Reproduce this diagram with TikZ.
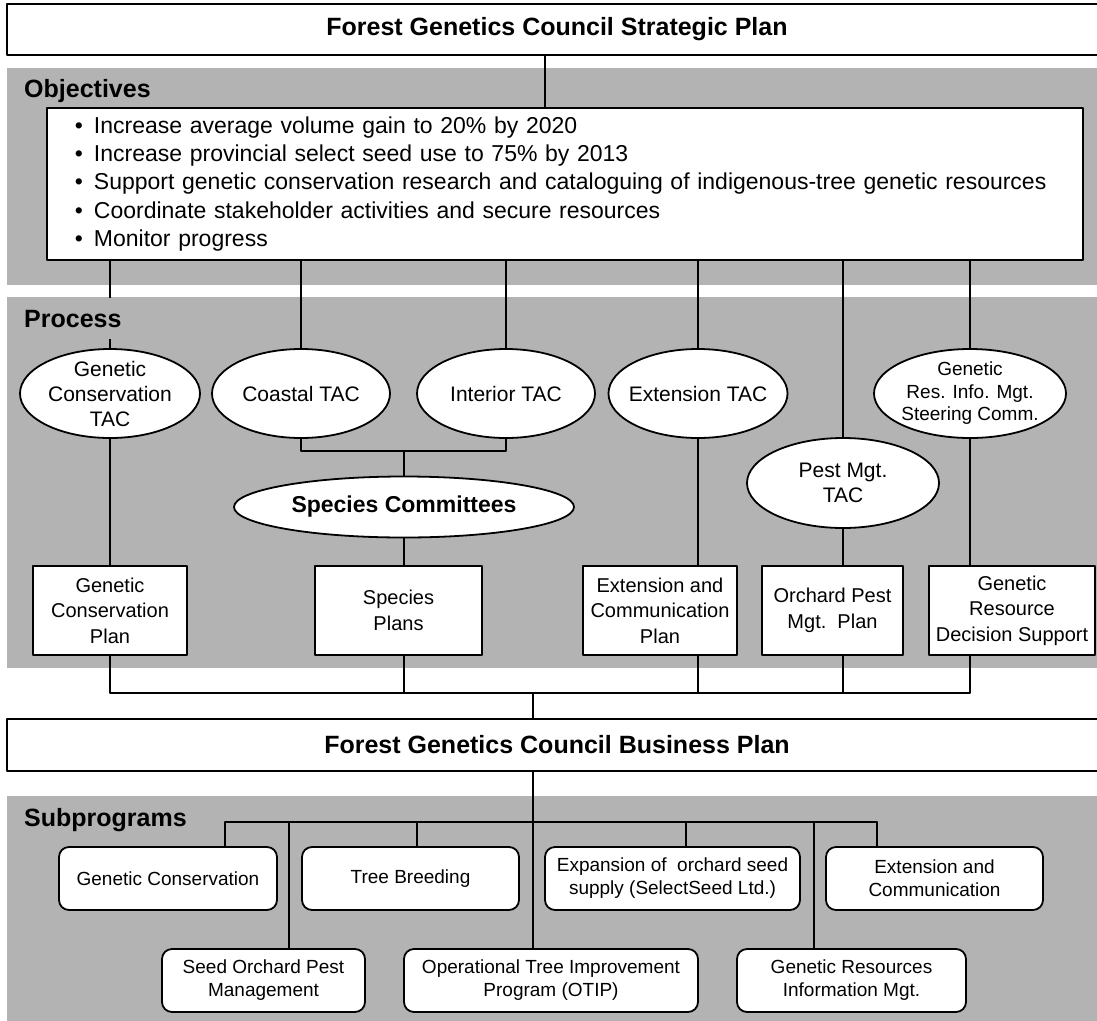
\documentclass[tikz,border=0pt]{standalone}
\usepackage{fontspec}
\setmainfont{Liberation Sans}
\usetikzlibrary{shapes.geometric}
\definecolor{panelgray}{RGB}{179,179,179}

\begin{document}
\begin{tikzpicture}[line cap=round,line join=round,x=1pt,y=-1pt,
  plan/.style={draw,line width=1.8pt,fill=white,inner sep=0pt,align=center},
  headtext/.style={font=\fontsize{25}{30}\selectfont\bfseries},
  tac/.style={ellipse,draw,line width=1.8pt,fill=white,inner sep=0pt,minimum height=89pt},
  tactext/.style={font=\fontsize{21}{25}\selectfont,align=center},
  planbox/.style={plan,minimum height=89pt,font=\fontsize{20}{25.5}\selectfont},
  subbox/.style={plan,rounded corners=10pt,minimum height=63pt,font=\fontsize{19}{23}\selectfont},
  conn/.style={line width=1.5pt}]
\useasboundingbox (0,0) rectangle (1097,1020);
\fill [panelgray] (7,68) rectangle (1100,285);
\fill [panelgray] (7,297) rectangle (1100,668);
\fill [panelgray] (7,796) rectangle (1100,1022);

\node[plan,headtext,minimum width=1100pt,minimum height=51pt] (strat) at (557,29.5) {Forest Genetics Council Strategic Plan};
\node[headtext,anchor=base west,inner sep=0pt] (objlab) at (24,97) {Objectives};
\node[plan,anchor=north west,minimum width=1036pt,minimum height=152pt,text width=980pt,align=left,inner xsep=28pt,font=\fontsize{23}{28.3}\selectfont] (obj) at (46,107)
  {\textbullet\hspace{11pt}Increase average volume gain to 20\% by 2020\\
   \textbullet\hspace{11pt}Increase provincial select seed use to 75\% by 2013\\
   \textbullet\hspace{11pt}Support genetic conservation research and cataloguing of indigenous-tree genetic resources\\
   \textbullet\hspace{11pt}Coordinate stakeholder activities and secure resources\\
   \textbullet\hspace{11pt}Monitor progress};

\node[tac,minimum width=180pt,label={[tactext]center:Genetic\\Conservation\\TAC}] (gctac) at (110,393.5) {};
\node[tac,minimum width=178pt,label={[tactext]center:Coastal TAC}] (coastal) at (301,393.5) {};
\node[tac,minimum width=178pt,label={[tactext]center:Interior TAC}] (interior) at (506,393.5) {};
\node[tac,minimum width=179pt,label={[tactext]center:Extension TAC}] (exttac) at (698,393.5) {};
\node[tac,minimum width=192pt,label={[tactext,font=\fontsize{19}{22.5}\selectfont]center:Genetic\\Res. Info. Mgt.\\Steering Comm.}] (grimsc) at (970,393.5) {};
\node[tac,minimum width=340pt,minimum height=61pt,label={[tactext,font=\fontsize{23}{27}\selectfont\bfseries]center:Species Committees}] (speccom) at (404,507) {};
\node[tac,minimum width=192pt,minimum height=90pt,label={[tactext]center:Pest Mgt.\\TAC}] (pesttac) at (843,483) {};

\node[planbox,minimum width=154pt] (gcplan) at (110,610.5) {Genetic\\Conservation\\Plan};
\node[planbox,minimum width=167pt] (spplan) at (398.5,610.5) {Species\\Plans};
\node[planbox,minimum width=154pt] (ecplan) at (660,610.5) {Extension and\\Communication\\Plan};
\node[planbox,minimum width=141pt] (opplan) at (832.5,610.5) {Orchard Pest\\Mgt.\ \ Plan};
\node[planbox,minimum width=166pt] (grdsplan) at (1012,610.5) {Genetic\\Resource\\Decision Support};

\node[plan,headtext,minimum width=1100pt,minimum height=52pt] (bizplan) at (557,745) {Forest Genetics Council Business Plan};
\node[headtext,anchor=base west,inner sep=0pt] (sublab) at (24,826) {Subprograms};

\node[subbox,minimum width=218pt] (gcsub) at (168,878.5) {Genetic Conservation};
\node[subbox,minimum width=217pt] (tbsub) at (410.5,878.5) {Tree Breeding};
\node[subbox,minimum width=255pt] (exsub) at (672.5,878.5) {Expansion of\ \ orchard seed\\supply (SelectSeed Ltd.)};
\node[subbox,minimum width=217pt] (ecsub) at (934.5,878.5) {Extension and\\Communication};
\node[subbox,minimum width=203pt] (sopsub) at (263.5,980.5) {Seed Orchard Pest\\Management};
\node[subbox,minimum width=294pt] (otipsub) at (551,980.5) {Operational Tree Improvement\\Program (OTIP)};
\node[subbox,minimum width=229pt] (grimsub) at (851.5,980.5) {Genetic Resources\\Information Mgt.};

\coordinate (tacjoin) at (404,451);
\coordinate (planbus) at (533,693);
\coordinate (gcjoin) at (225,822);
\coordinate (sopjoin) at (289,822);
\coordinate (tbjoin) at (417,822);
\coordinate (exjoin) at (686,822);
\coordinate (grimjoin) at (814,822);
\coordinate (ecjoin) at (877,822);

\draw [conn] (545,0 |- strat.south) -- (545,0 |- obj.north);
\draw [conn] (obj.south -| gctac.north) -- (gctac.north);
\draw [conn] (obj.south -| coastal.north) -- (coastal.north);
\draw [conn] (obj.south -| interior.north) -- (interior.north);
\draw [conn] (obj.south -| exttac.north) -- (exttac.north);
\draw [conn] (obj.south -| pesttac.north) -- (pesttac.north);
\draw [conn] (obj.south -| grimsc.north) -- (grimsc.north);
\draw [conn] (coastal.south) |- (tacjoin) -| (interior.south);
\draw [conn] (tacjoin) -- (speccom.north);
\draw [conn] (gctac.south) -- (gcplan.north);
\draw [conn] (speccom.south) -- (speccom.south |- spplan.north);
\draw [conn] (exttac.south) -- (exttac.south |- ecplan.north);
\draw [conn] (pesttac.south) -- (pesttac.south |- opplan.north);
\draw [conn] (grimsc.south) -- (grimsc.south |- grdsplan.north);
\draw [conn] (gcplan.south) |- (planbus);
\draw [conn] (grimsc.south |- grdsplan.south) |- (planbus);
\draw [conn] (speccom.south |- spplan.south) -- (speccom.south |- planbus);
\draw [conn] (exttac.south |- ecplan.south) -- (exttac.south |- planbus);
\draw [conn] (pesttac.south |- opplan.south) -- (pesttac.south |- planbus);
\draw [conn] (planbus) -- (planbus |- bizplan.north);
\draw [conn] (planbus |- bizplan.south) -- (planbus |- otipsub.north);
\draw [conn] (gcjoin) -- (ecjoin);
\draw [conn] (gcjoin) -- (gcjoin |- gcsub.north);
\draw [conn] (sopjoin) -- (sopjoin |- sopsub.north);
\draw [conn] (tbjoin) -- (tbjoin |- tbsub.north);
\draw [conn] (exjoin) -- (exjoin |- exsub.north);
\draw [conn] (grimjoin) -- (grimjoin |- grimsub.north);
\draw [conn] (ecjoin) -- (ecjoin |- ecsub.north);

\node[headtext,fill=panelgray,anchor=base west,inner xsep=0pt,inner ysep=11.5pt] (proclab) at (24,327) {Process};
\end{tikzpicture}
\end{document}
